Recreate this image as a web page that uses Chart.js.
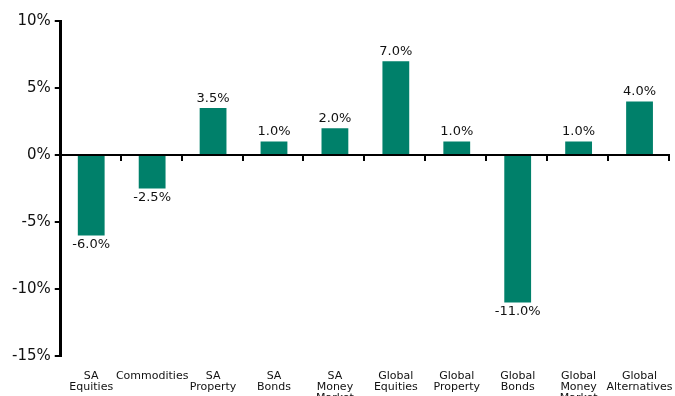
<!DOCTYPE html>
<html>
<head>
<meta charset="utf-8">
<script src="https://cdn.jsdelivr.net/npm/chart.js@4"></script>
<style>
  html, body { margin: 0; padding: 0; background: #fff; }
  #wrap { width: 675px; height: 396px; }
</style>
</head>
<body>
<div id="wrap"><canvas id="returnsChart"></canvas></div>
<script>
const categories = [
  ['SA', 'Equities'], 'Commodities', ['SA', 'Property'], ['SA', 'Bonds'],
  ['SA', 'Money', 'Market'], ['Global', 'Equities'], ['Global', 'Property'],
  ['Global', 'Bonds'], ['Global', 'Money', 'Market'], ['Global', 'Alternatives']
];
const returns = [-6.0, -2.5, 3.5, 1.0, 2.0, 7.0, 1.0, -11.0, 1.0, 4.0];
const yTicks = [10, 5, 0, -5, -10, -15];

const barColor = '#00806A';
const fontFamily = '"DejaVu Sans", Verdana, sans-serif';

// zero line with tick marks between categories, plus value labels
const zeroAxis = {
  id: 'zeroAxis',
  afterDatasetsDraw(chart) {
    const { ctx, chartArea, scales } = chart;
    const y0 = scales.y.getPixelForValue(0);
    const n = categories.length;
    const step = (chartArea.right - chartArea.left) / n;
    ctx.save();
    ctx.strokeStyle = '#000';
    ctx.lineWidth = 2;
    ctx.beginPath();
    ctx.moveTo(chartArea.left, y0);
    ctx.lineTo(chartArea.right, y0);
    for (let i = 1; i <= n; i++) {
      const x = Math.round(chartArea.left + step * i) - 1;
      ctx.moveTo(x, y0);
      ctx.lineTo(x, y0 + 6);
    }
    ctx.stroke();

    ctx.fillStyle = '#111';
    ctx.font = '13px ' + fontFamily;
    ctx.textAlign = 'center';
    const meta = chart.getDatasetMeta(0);
    meta.data.forEach((bar, i) => {
      const v = returns[i];
      const txt = v.toFixed(1) + '%';
      if (v >= 0) {
        ctx.textBaseline = 'bottom';
        ctx.fillText(txt, bar.x, bar.y - 3);
      } else {
        ctx.textBaseline = 'top';
        ctx.fillText(txt, bar.x, bar.y + 3);
      }
    });
    ctx.restore();
  }
};

new Chart(document.getElementById('returnsChart'), {
  type: 'bar',
  data: {
    labels: categories,
    datasets: [{
      data: returns,
      backgroundColor: barColor,
      categoryPercentage: 1,
      barPercentage: 0.44
    }]
  },
  options: {
    responsive: true,
    maintainAspectRatio: false,
    animation: false,
    layout: { padding: { top: 21, right: 5, left: 8, bottom: 0 } },
    plugins: { legend: { display: false }, tooltip: { enabled: false } },
    scales: {
      x: {
        grid: { display: false },
        border: { display: false },
        ticks: {
          color: '#111',
          font: { family: fontFamily, size: 11, lineHeight: 1.0 },
          maxRotation: 0,
          autoSkip: false,
          padding: 7
        },
        afterFit(scale) {
          scale.height = 40;
          scale.paddingLeft = 0;
          scale.paddingRight = 0;
        }
      },
      y: {
        min: -15,
        max: 10,
        afterBuildTicks(scale) { scale.ticks = yTicks.map(v => ({ value: v })); },
        grid: { drawOnChartArea: false, drawTicks: true, tickLength: 6, color: '#000', lineWidth: 2 },
        border: { display: true, color: '#000', width: 3 },
        ticks: {
          color: '#111',
          font: { family: fontFamily, size: 15 },
          padding: 4,
          callback: v => v + '%'
        }
      }
    }
  },
  plugins: [zeroAxis]
});
</script>
</body>
</html>
